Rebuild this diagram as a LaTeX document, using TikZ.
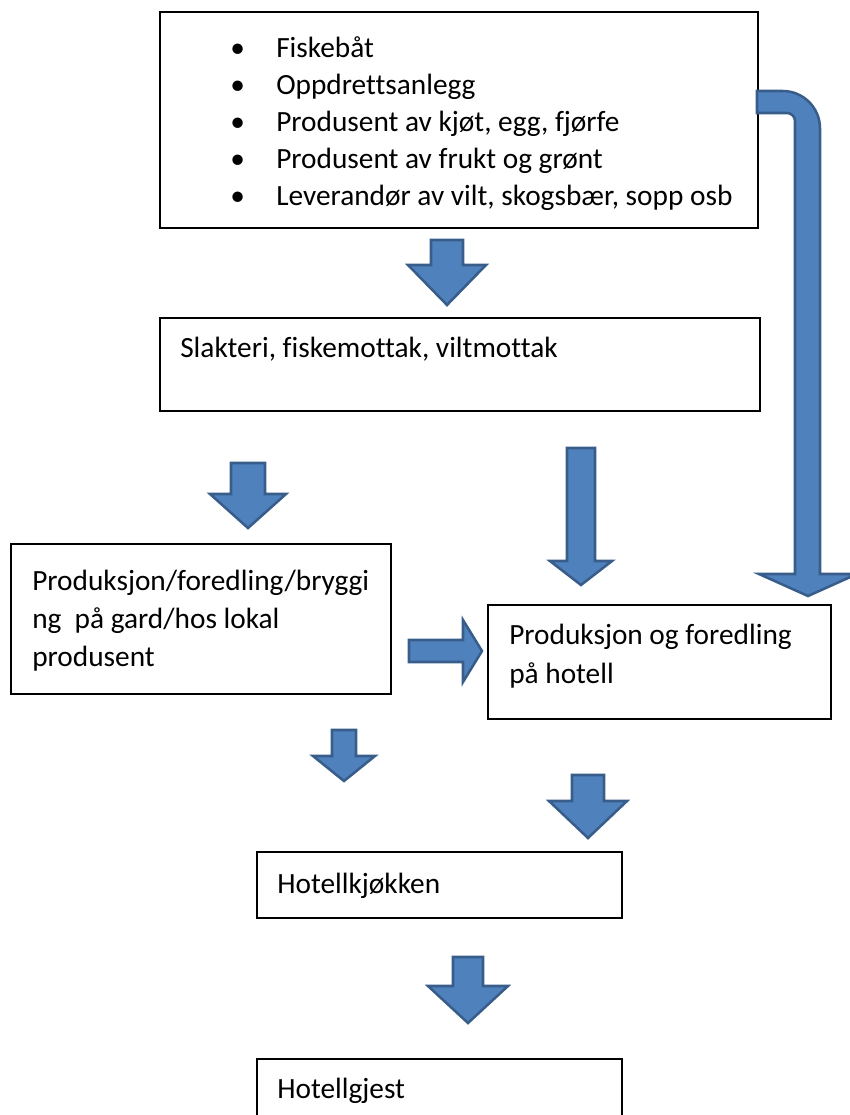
\documentclass[tikz,border=0pt]{standalone}
\usepackage{fontspec}
\setmainfont{Carlito}[Ligatures=NoCommon]
\usepackage{tikz}

\tikzset{
  boks/.style={line width=0.8pt},
  blokkpil/.style={draw={rgb,255:red,56;green,93;blue,138}, fill={rgb,255:red,79;green,129;blue,189}, line width=1.9pt},
  tekst/.style={anchor=base west, inner sep=0pt, font=\fontsize{22}{26}\selectfont},
}

\begin{document}
\begin{tikzpicture}[x=0.75pt,y=0.75pt,yscale=-1,xscale=1]
    \useasboundingbox (0,0) rectangle (850,1115);

    %Boxes
    \draw [boks] (160,12) rectangle (758,228) ;
    \draw [boks] (160,318) rectangle (760,411) ;
    \draw [boks] (11,544) rectangle (391,694) ;
    \draw [boks] (488,605) rectangle (831,719) ;
    \draw [boks] (257,852) rectangle (622,918) ;
    \draw [boks] (257,1059) rectangle (622,1130) ;

    %Down arrow under the supplier list
    \draw [blokkpil] (431,240) -- (463,240) -- (463,265) -- (486,265) -- (447,305) -- (408,265) -- (431,265) -- cycle ;
    %Down arrow to the farm box
    \draw [blokkpil] (231,463) -- (265,463) -- (265,494) -- (286,494) -- (248,528) -- (210,494) -- (231,494) -- cycle ;
    %Long down arrow to the hotel box
    \draw [blokkpil] (567,448) -- (595,448) -- (595,561) -- (612,561) -- (581,585) -- (550,561) -- (567,561) -- cycle ;
    %Right arrow between the two production boxes
    \draw [blokkpil] (409,640) -- (463,640) -- (463,620) -- (482,651) -- (463,682) -- (463,662) -- (409,662) -- cycle ;
    %Down arrow under the farm box
    \draw [blokkpil] (332,730) -- (356,730) -- (356,756) -- (375,756) -- (344,781) -- (313,756) -- (332,756) -- cycle ;
    %Down arrow under the hotel box
    \draw [blokkpil] (572,775) -- (604,775) -- (604,801) -- (627,801) -- (588,838) -- (549,801) -- (572,801) -- cycle ;
    %Down arrow to the guest
    \draw [blokkpil] (453,957) -- (483,957) -- (483,986) -- (508,986) -- (468,1023) -- (428,986) -- (453,986) -- cycle ;
    %Bent arrow on the right side
    \draw [blokkpil] (757,91) [rounded corners=28pt] -- (820,91) [sharp corners] -- (820,574) -- (857,574) -- (808,596) -- (759,574) -- (795,574) [rounded corners=6pt] -- (795,113) [sharp corners] -- (757,113) -- cycle ;

    % Text Node
    \node (b1) [tekst] at (230,57) {•};
    \node (t1) [tekst] at (276,57) {Fiskebåt};
    \node (b2) [tekst] at (230,94) {•};
    \node (t2) [tekst] at (276,94) {Oppdrettsanlegg};
    \node (b3) [tekst] at (230,131) {•};
    \node (t3) [tekst] at (276,131) {Produsent av kjøt, egg, fjørfe};
    \node (b4) [tekst] at (230,168) {•};
    \node (t4) [tekst] at (276,168) {Produsent av frukt og grønt};
    \node (b5) [tekst] at (230,205) {•};
    \node (t5) [tekst] at (276,205) {Leverandør av vilt, skogsbær, sopp osb};
    % Text Node
    \node (slakteri) [tekst] at (180,357) {Slakteri, fiskemottak, viltmottak};
    % Text Node
    \node (gard1) [tekst] at (32,590) {Produksjon/foredling/bryggi};
    \node (gard2) [tekst] at (32,628) {ng\ \ på gard/hos lokal};
    \node (gard3) [tekst] at (32,666) {produsent};
    % Text Node
    \node (hotell1) [tekst] at (509,644) {Produksjon og foredling};
    \node (hotell2) [tekst] at (509,683) {på hotell};
    % Text Node
    \node (kjokken) [tekst] at (277,893) {Hotellkjøkken};
    % Text Node
    \node (gjest) [tekst] at (277,1098) {Hotellgjest};

\end{tikzpicture}
\end{document}
